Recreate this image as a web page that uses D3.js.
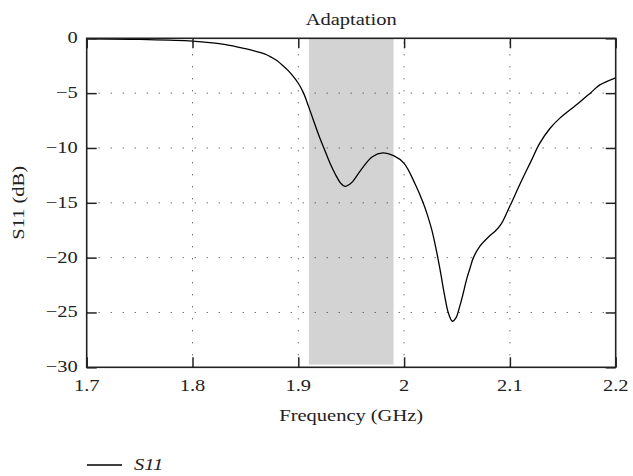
<!DOCTYPE html>
<html>
<head>
<meta charset="utf-8">
<script src="https://cdn.jsdelivr.net/npm/d3@7"></script>
<style>
  body { margin: 0; background: #fff; }
  svg { display: block; }
</style>
</head>
<body>
<svg id="chart" width="633" height="476"></svg>
<script>
// S11 reflection curve
var freq = [1.70, 1.75, 1.80, 1.83, 1.85, 1.86, 1.87, 1.875, 1.88, 1.885, 1.89, 1.895, 1.90, 1.905, 1.91, 1.92, 1.925, 1.93, 1.935, 1.94, 1.944, 1.95, 1.96, 1.97, 1.98, 1.99, 2.00, 2.01, 2.018, 2.022, 2.026, 2.03, 2.034, 2.038, 2.042, 2.0456, 2.049, 2.0527, 2.056, 2.059, 2.0625, 2.0655, 2.0717, 2.081, 2.086, 2.092, 2.10, 2.11, 2.12, 2.128, 2.138, 2.147, 2.165, 2.176, 2.185, 2.20];
var s11  = [-0.05, -0.1, -0.25, -0.55, -0.95, -1.2, -1.5, -1.75, -2.05, -2.45, -2.9, -3.45, -4.1, -5.0, -6.3, -9.0, -10.2, -11.4, -12.4, -13.2, -13.5, -13.2, -11.9, -10.8, -10.45, -10.7, -11.4, -13.2, -15.0, -16.1, -17.4, -19.1, -21.1, -23.3, -25.1, -25.8, -25.5, -24.4, -23.2, -22.0, -20.9, -20.0, -18.95, -18.0, -17.6, -16.9, -15.3, -13.2, -11.2, -9.6, -8.2, -7.3, -5.9, -5.0, -4.25, -3.6];

var xTicks = [1.7, 1.8, 1.9, 2.0, 2.1, 2.2];
var xTickLabels = ['1.7', '1.8', '1.9', '2', '2.1', '2.2'];
var yTicks = [0, -5, -10, -15, -20, -25, -30];

var band = [1.91, 1.99];         // shaded "Adaptation" band
var bandRange = [-29.75, 0];

var svg = d3.select('#chart');
var margin = {left: 86.7, right: 17.3, top: 38.3, bottom: 108.7};
var W = 633 - margin.left - margin.right;
var H = 476 - margin.top - margin.bottom;
var sx = 1.28;   // text is set wide in the original
var font = '"Liberation Serif", "Times New Roman", serif';

var x = d3.scaleLinear().domain([1.7, 2.2]).range([0, W]);
var y = d3.scaleLinear().domain([-30, 0]).range([H, 0]);

var g = svg.append('g').attr('transform', 'translate(' + margin.left + ',' + margin.top + ')');

function label(parent, tx, ty, str, anchor, size, rot) {
  return parent.append('g')
    .attr('transform', 'translate(' + tx + ',' + ty + ')' + (rot ? ' rotate(' + rot + ')' : '') + ' scale(' + sx + ',1)')
    .append('text')
    .attr('text-anchor', anchor)
    .attr('font-family', font)
    .attr('font-size', size)
    .attr('fill', '#222')
    .text(str);
}

// band
g.append('rect')
  .attr('x', x(band[0]))
  .attr('y', y(bandRange[1]))
  .attr('width', x(band[1]) - x(band[0]))
  .attr('height', y(bandRange[0]) - y(bandRange[1]))
  .attr('fill', '#d3d3d3');

// dotted grid
g.selectAll('.gx').data(xTicks.slice(1, -1)).enter().append('line')
  .attr('x1', function (d) { return x(d); }).attr('x2', function (d) { return x(d); })
  .attr('y1', H).attr('y2', 0)
  .attr('stroke', '#333').attr('stroke-width', 1).attr('stroke-dasharray', '1,11');
g.selectAll('.gy').data(yTicks.slice(1, -1)).enter().append('line')
  .attr('y1', function (d) { return y(d); }).attr('y2', function (d) { return y(d); })
  .attr('x1', 0).attr('x2', W)
  .attr('stroke', '#333').attr('stroke-width', 1).attr('stroke-dasharray', '1,11');

// curve
var line = d3.line()
  .x(function (d, i) { return x(freq[i]); })
  .y(function (d) { return y(d); })
  .curve(d3.curveCatmullRom.alpha(0.5));

g.append('path')
  .datum(s11)
  .attr('d', line)
  .attr('fill', 'none')
  .attr('stroke', '#000')
  .attr('stroke-width', 1.3);

// axes with inward ticks on all four sides
function styleAxis(sel) {
  sel.select('.domain').remove();
  sel.selectAll('.tick line').attr('stroke', '#222').attr('stroke-width', 1.5);
  sel.selectAll('.tick text').remove();
}
g.append('g').attr('transform', 'translate(0,' + H + ')')
  .call(d3.axisBottom(x).tickValues(xTicks).tickSize(-10)).call(styleAxis);
g.append('g')
  .call(d3.axisTop(x).tickValues(xTicks).tickSize(-10)).call(styleAxis);
g.append('g')
  .call(d3.axisLeft(y).tickValues(yTicks).tickSize(-10)).call(styleAxis);
g.append('g').attr('transform', 'translate(' + W + ',0)')
  .call(d3.axisRight(y).tickValues(yTicks).tickSize(-10)).call(styleAxis);

g.append('rect')
  .attr('width', W).attr('height', H)
  .attr('fill', 'none').attr('stroke', '#222').attr('stroke-width', 1.6);

// tick labels
xTicks.forEach(function (d, i) {
  label(g, x(d), H + 24, xTickLabels[i], 'middle', 16);
});
yTicks.forEach(function (d) {
  label(g, -9, y(d) + 5, d3.format('d')(d), 'end', 16);
});

// titles
label(g, W / 2, -13, 'Adaptation', 'middle', 16);
label(g, W / 2, H + 54, 'Frequency (GHz)', 'middle', 16);
label(g, -63, H / 2, 'S11 (dB)', 'middle', 16, -90);

// legend
var leg = svg.append('g').attr('transform', 'translate(87,465)');
leg.append('line').attr('x1', 0).attr('x2', 35).attr('y1', 0).attr('y2', 0)
  .attr('stroke', '#000').attr('stroke-width', 1.6);
label(leg, 47, 5, 'S11', 'start', 16).attr('font-style', 'italic');
</script>
</body>
</html>
